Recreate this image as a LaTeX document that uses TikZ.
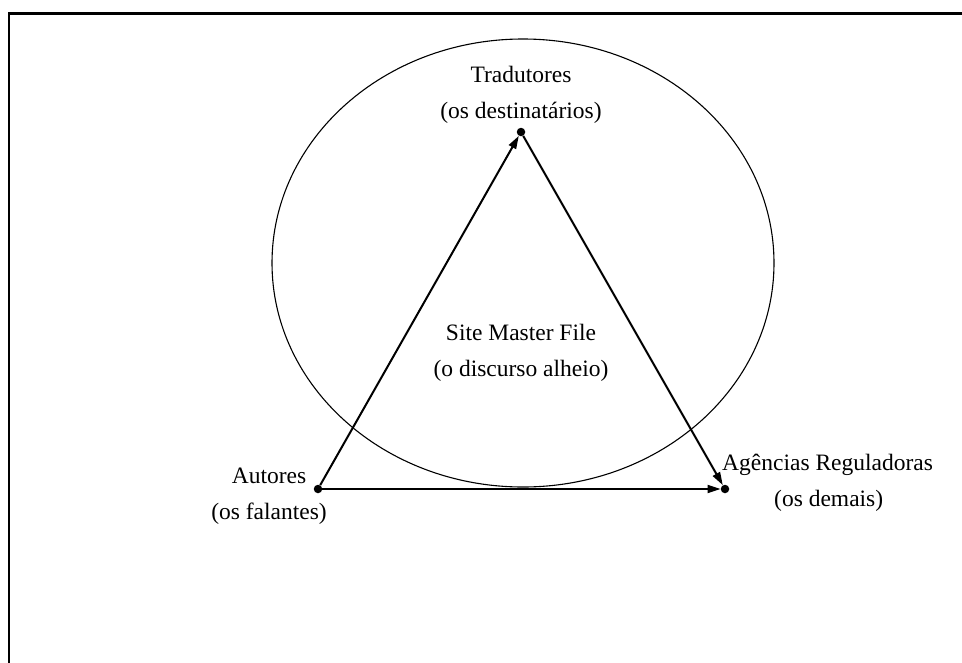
\documentclass[tikz,border=0pt]{standalone}
\usepackage{fontspec}
\setmainfont{Liberation Serif}
\usetikzlibrary{arrows.meta}
\tikzset{
  lbl/.style={font=\fontsize{23.5}{36}\selectfont, inner sep=0pt, align=center},
  vertex/.style={circle, fill=black, inner sep=0pt, minimum size=8.5pt},
  arr/.style={line width=2pt, -{Triangle[length=13pt,width=8pt]}},
  framel/.style={line width=2.2pt, line cap=rect},
}
\begin{document}
\begin{tikzpicture}[x=1pt,y=-1pt]
\useasboundingbox (0,0) rectangle (962,662);
\draw[framel] (9,662) -- (9,13.5) -- (962,13.5);
\draw[line width=1.1pt] (523,263) ellipse [x radius=251, y radius=224];
\node[vertex] (A) at (318,489) {};
\node[vertex] (T) at (521,132) {};
\node[vertex] (R) at (725,489) {};
\draw[arr] (A) -- (T);
\draw[arr] (T) -- (R);
\draw[arr] (A) -- (R);
\node[lbl] (tlab) at (521,95) {Tradutores\\(os destinatários)};
\node[lbl] (slab) at (521,353) {Site Master File\\(o discurso alheio)};
\node[lbl] (alab) at (269,496) {Autores\\(os falantes)};
\node[lbl, anchor=base west] (rlab1) at (722,470) {Agências Reguladoras};
\node[lbl, anchor=base west] (rlab2) at (774,506) {(os demais)};
\end{tikzpicture}
\end{document}
